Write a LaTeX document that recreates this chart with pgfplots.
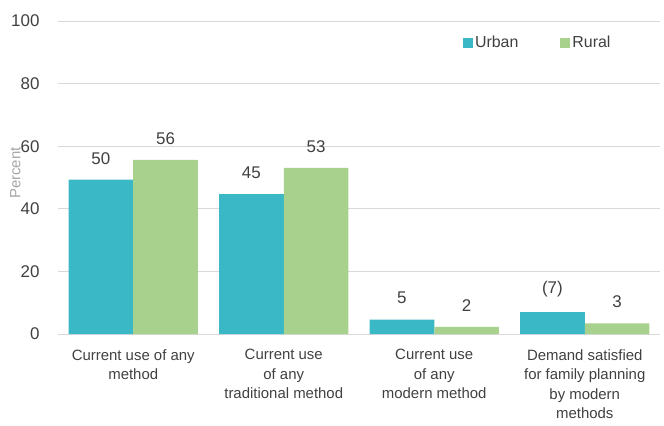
\documentclass[border=0pt]{standalone}
\usepackage{pgfplots}
\pgfplotsset{compat=1.18}
\usepackage{fontspec}
\setmainfont{Liberation Sans}
\definecolor{urban}{HTML}{3BB8C6}
\definecolor{rural}{HTML}{A9D18E}
\definecolor{txt}{HTML}{404040}
\definecolor{gridc}{HTML}{D9D9D9}
\begin{document}
\begin{tikzpicture}
\begin{axis}[
  scale only axis,
  width=602bp, height=313bp,
  xmin=-0.5, xmax=3.5,
  ymin=0, ymax=100,
  /pgf/number format/assume math mode=true,
  ytick={0,20,40,60,80,100},
  xtick={0,1,2,3},
  xticklabels={{Current use of any\\method},{Current use\\of any\\traditional method},{Current use\\of any\\modern method},{Demand satisfied\\for family planning\\by modern\\methods}},
  axis line style={draw=none},
  ymajorgrids,
  grid style={gridc, line width=0.8pt},
  major tick length=0pt,
  tick style={draw=none},
  ybar,
  bar width=0.43,
  yticklabel style={font=\fontsize{17}{19}\selectfont, text=txt, xshift=-15bp},
  xticklabel style={font=\fontsize{15}{19.5}\selectfont, text=txt, align=center, yshift=-12bp},
  ylabel={Percent},
  ylabel style={at={(axis description cs:-0.071,0.514)}, anchor=center, rotate=0, font=\fontsize{15}{17}\selectfont, text=gray!70},
  legend style={draw=none, fill=none, at={(axis description cs:0.797,0.93)}, anchor=center, legend columns=2, font=\fontsize{16}{18}\selectfont, text=txt, /tikz/every even column/.append style={column sep=40bp}},
  legend image code/.code={\fill[#1] (0bp,-5bp) rectangle (10bp,5bp);},
  nodes near coords,
  point meta=explicit symbolic,
  every node near coord/.append style={font=\fontsize{17}{19}\selectfont, text=txt, anchor=south, yshift=12bp},
]
\addplot[fill=urban, draw=none, bar shift=-0.215] coordinates {(0,49.3)[50] (1,44.7)[45] (2,4.6)[5] (3,7.0)[(7)]};
\addlegendentry{Urban}
\addplot[fill=rural, draw=none, bar shift=0.215] coordinates {(0,55.6)[56] (1,53.1)[53] (2,2.3)[2] (3,3.4)[3]};
\addlegendentry{Rural}
\coordinate (bl) at (rel axis cs:0,0);
\coordinate (tr) at (rel axis cs:1,1);
\end{axis}
\pgfresetboundingbox
\path[use as bounding box] ([shift={(-58bp,-92bp)}]bl) rectangle ([shift={(4bp,21bp)}]tr);
\end{tikzpicture}
\end{document}
